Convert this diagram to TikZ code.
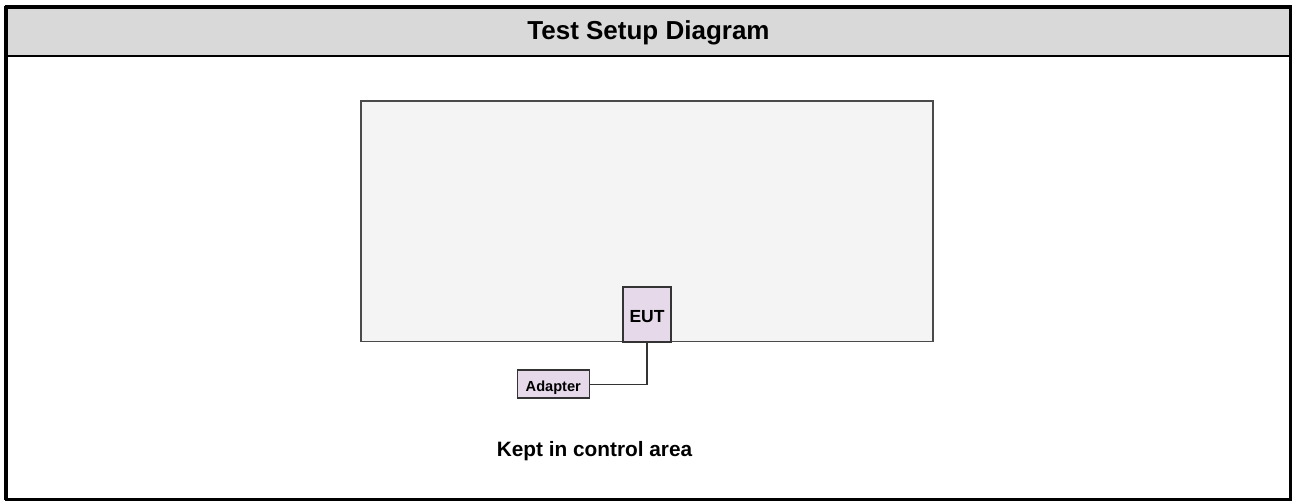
\documentclass[tikz,border=0pt]{standalone}
\usepackage{fontspec}
\setmainfont{Liberation Sans}
\definecolor{hdrgray}{HTML}{D9D9D9}
\definecolor{areafill}{HTML}{F4F4F4}
\definecolor{arealine}{HTML}{4A4A4A}
\definecolor{devfill}{HTML}{E5D9EA}
\definecolor{devline}{HTML}{333333}
\tikzset{
  frameline/.style={draw=black, line width=3.2pt},
  devbox/.style={draw=devline, fill=devfill, line width=1.5pt, inner sep=0pt, font=\bfseries},
  wire/.style={draw=devline, line width=1.4pt},
}
\begin{document}
\begin{tikzpicture}[x=1pt,y=-1pt]
\useasboundingbox (0,0) rectangle (1292,501);
% header band
\fill[hdrgray] (7,8) rectangle (1290,55);
% frame
\draw[frameline] (6,5.5) -- (6,500);
\draw[frameline] (4.5,7) -- (1292,7);
\draw[frameline] (1290.6,5.5) -- (1290.6,500);
\draw[frameline] (4.5,499.6) -- (1292,499.6);
\draw[black, line width=2.6pt] (6,56) -- (1290.6,56);
\node[anchor=base, inner sep=0pt, font=\fontsize{26}{26}\selectfont\bfseries] (title) at (648.5,39.3) {Test Setup Diagram};
% area
\node[draw=arealine, fill=areafill, line width=1.5pt, minimum width=572pt, minimum height=240.5pt, inner sep=0pt] (area) at (647,221) {};
% devices
\node[devbox, minimum width=48pt, minimum height=55pt, text height=15pt, text depth=0pt, font=\fontsize{17.5}{17.5}\selectfont\bfseries] (eut) at (647,314.5) {EUT};
\node[devbox, minimum width=72pt, minimum height=28pt, text height=14.6pt, text depth=0pt, font=\fontsize{14.6}{14.6}\selectfont\bfseries] (adapter) at (553.3,384.2) {Adapter};
\draw[wire] (eut.south) |- (adapter.east);
\node[anchor=base, inner sep=0pt, font=\fontsize{20.8}{20.8}\selectfont\bfseries] (kept) at (594.5,456.5) {Kept in control area};
\end{tikzpicture}
\end{document}
